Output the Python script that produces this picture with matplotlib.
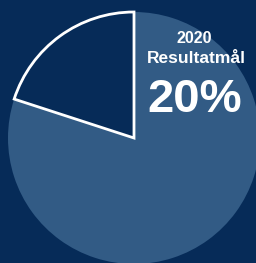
# ==========================================
# IMPORTAR LIBRERÍAS
# ==========================================

import matplotlib
matplotlib.use("Agg")
import matplotlib.pyplot as plt


# ==========================================
# DATOS
# ==========================================

labels = ["Resultatmål", "Resten"]
values = [20, 80]
year = "2020"
goal_label = "Resultatmål"

bg = "#062b58"
big_color = "#325b85"


# ==========================================
# FIGURA
# ==========================================

plt.rcParams["font.family"] = ["Liberation Sans", "DejaVu Sans"]

fig = plt.figure(figsize=(2.56, 2.63), dpi=100, facecolor=bg)
ax = fig.add_axes([0, 0, 1, 1])
ax.set_facecolor(bg)

wedges, _ = ax.pie(
    values,
    startangle=90,
    counterclock=True,
    colors=[bg, big_color],
    radius=1,
)

wedges[0].set_edgecolor("white")
wedges[0].set_linewidth(2)
wedges[0].set_zorder(3)

# pie center at pixel (134, 138), radius 126 px
px = 126
ax.set_xlim(-134 / px, (256 - 134) / px)
ax.set_ylim(-(263 - 138) / px, 138 / px)
ax.set_aspect("auto")
ax.axis("off")


# ==========================================
# TEXTOS
# ==========================================

ax.text(0.758, 0.8365, year, transform=ax.transAxes, ha="center",
        va="baseline", color="white", fontsize=11.5, fontweight="bold")
ax.text(0.766, 0.760, goal_label, transform=ax.transAxes, ha="center",
        va="baseline", color="white", fontsize=12.5, fontweight="bold")
ax.text(0.760, 0.574, f"{values[0]}%", transform=ax.transAxes, ha="center",
        va="baseline", color="white", fontsize=34, fontweight="bold")


# ==========================================
# GUARDAR
# ==========================================

fig.savefig("out.png", dpi=100, facecolor=bg)
